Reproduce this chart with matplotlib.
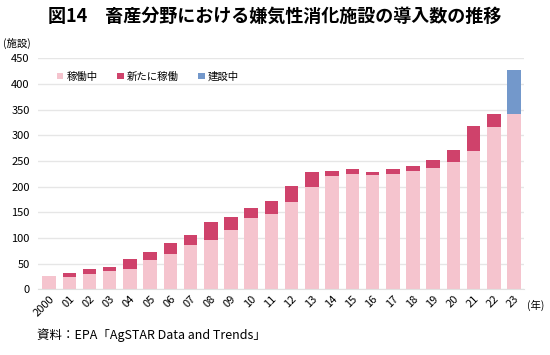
import numpy as np
import matplotlib
matplotlib.use("Agg")
import matplotlib.pyplot as plt

plt.rcParams['font.family'] = ['Noto Sans CJK JP', 'DejaVu Sans']

years = ['2000', '01', '02', '03', '04', '05', '06', '07', '08', '09', '10', '11',
         '12', '13', '14', '15', '16', '17', '18', '19', '20', '21', '22', '23']
active = [25, 24, 29, 36, 40, 57, 69, 87, 97, 115, 139, 146,
          171, 199, 220, 225, 223, 224, 230, 237, 249, 270, 317, 341]
new_op = [0, 7, 10, 8, 19, 16, 21, 18, 34, 25, 19, 27,
          31, 29, 10, 9, 5, 10, 11, 15, 22, 49, 24, 0]
constr = [0] * 23 + [86]

c_active = '#f5c4ce'
c_new = '#cf426b'
c_con = '#7398cb'

fig = plt.figure(figsize=(5.5, 3.55), dpi=100)
ax = fig.add_axes([0.069, 0.185, 0.884, 0.6505])

x = np.arange(len(years))
w = 0.67
ax.bar(x, active, w, color=c_active, label='稼働中', zorder=2)
ax.bar(x, new_op, w, bottom=active, color=c_new, label='新たに稼働', zorder=2)
ax.bar(x, constr, w, bottom=np.array(active) + np.array(new_op), color=c_con,
       label='建設中', zorder=2)

ax.set_ylim(0, 450)
ax.set_xlim(-0.55, 23.5)
ax.set_yticks(range(0, 451, 50))
ax.yaxis.grid(True, color='#e6e6e6', linewidth=1, zorder=0)
ax.set_axisbelow(True)
for s in ['top', 'right', 'left']:
    ax.spines[s].set_visible(False)
ax.spines['bottom'].set_color('#e0e0e0')
ax.tick_params(axis='y', length=0, labelsize=8, pad=6)
ax.tick_params(axis='x', length=0, labelsize=8, pad=3)
ax.set_xticks(x)
ax.set_xticklabels(years, rotation=45, ha='right', rotation_mode='anchor')

leg = ax.legend(loc='upper left', bbox_to_anchor=(0.02, 0.985), ncol=3, frameon=False,
                fontsize=7.5, handlelength=0.6, handleheight=0.6, handletextpad=0.3,
                columnspacing=1.9)

fig.text(0.5, 0.955, '図14　畜産分野における嫌気性消化施設の導入数の推移',
         ha='center', va='center', fontsize=13, fontweight='bold')
fig.text(0.005, 0.878, '(施設)', ha='left', va='center', fontsize=7.5)
fig.text(0.958, 0.14, '(年)', ha='left', va='center', fontsize=7.5)
fig.text(0.067, 0.055, '資料：EPA「AgSTAR Data and Trends」', ha='left', va='center',
         fontsize=9)

fig.savefig('out.png', dpi=100)
